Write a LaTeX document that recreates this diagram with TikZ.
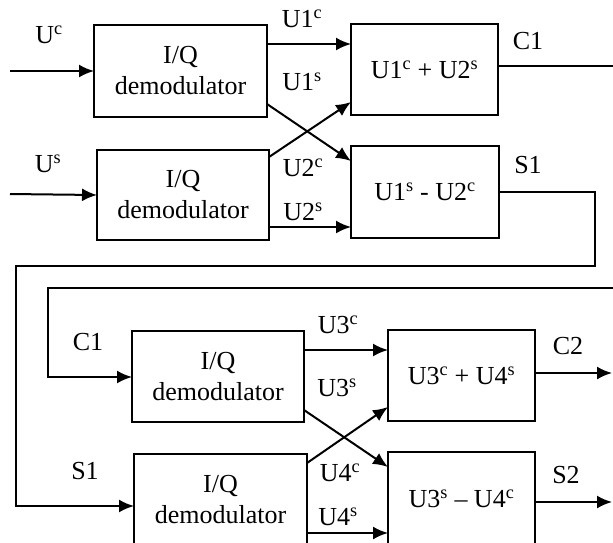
\documentclass[tikz,border=0pt]{standalone}
\usepackage{fontspec}
\setmainfont{Liberation Serif}
\usetikzlibrary{arrows.meta}
\begin{document}
\begin{tikzpicture}[x=1pt,y=-1pt,
  every node/.style={font=\fontsize{26}{31}\selectfont},
  blk/.style={draw,line width=2pt,inner sep=0pt,outer sep=0pt,align=center},
  lbl/.style={inner sep=0pt},
  wire/.style={line width=2pt},
  arr/.style={line width=2pt,-{Latex[length=15pt,width=13pt]}}]
\useasboundingbox (0,0) rectangle (613,542);
\clip (0,0) rectangle (613,542);
% boxes
\node[blk,minimum width=173pt,minimum height=92pt] (A) at (180.5,71) {I/Q\\demodulator};
\node[blk,minimum width=172pt,minimum height=90pt] (B) at (183,195) {I/Q\\demodulator};
\node[blk,minimum width=147pt,minimum height=91pt] (C) at (424.5,69.5) {U1\textsuperscript{c} + U2\textsuperscript{s}};
\node[blk,minimum width=148pt,minimum height=92pt] (D) at (425,192) {U1\textsuperscript{s} - U2\textsuperscript{c}};
\node[blk,minimum width=172pt,minimum height=91pt] (E) at (218,376.5) {I/Q\\demodulator};
\node[blk,minimum width=173pt,minimum height=91pt] (F) at (220.5,499.5) {I/Q\\demodulator};
\node[blk,minimum width=147pt,minimum height=91pt] (G) at (461.5,375.5) {U3\textsuperscript{c} + U4\textsuperscript{s}};
\node[blk,minimum width=147pt,minimum height=93pt] (H) at (461.5,498.5) {U3\textsuperscript{s} -- U4\textsuperscript{c}};
% fragment at top
\node[lbl,anchor=base west] (Qf) at (207,-6) {Q};
% free ends
\coordinate (inC) at (10,71);
\coordinate (inS) at (10,194);
\coordinate (outC1) at (620,66);
\coordinate (s1a) at (595,192);
\coordinate (s1b) at (595,266);
\coordinate (s1c) at (16,266);
\coordinate (s1d) at (16,506);
\coordinate (c1a) at (620,288);
\coordinate (c1b) at (48,288);
\coordinate (c1c) at (48,377);
\coordinate (outC2) at (612,373);
\coordinate (outS2) at (612,502);
% labels
\node[lbl] (lUc) at (49,35) {U\textsuperscript{c}};
\node[lbl] (lUs) at (48,164) {U\textsuperscript{s}};
\node[lbl] (l1c) at (302,19) {U1\textsuperscript{c}};
\node[lbl] (l1s) at (302,82) {U1\textsuperscript{s}};
\node[lbl] (l2c) at (303,168) {U2\textsuperscript{c}};
\node[lbl] (l2s) at (303,212) {U2\textsuperscript{s}};
\node[lbl] (lC1) at (528,41) {C1};
\node[lbl] (lS1) at (528,165) {S1};
\node[lbl] (lC1b) at (88,342) {C1};
\node[lbl] (lS1b) at (85,471) {S1};
\node[lbl] (l3c) at (338,325) {U3\textsuperscript{c}};
\node[lbl] (l3s) at (337,388) {U3\textsuperscript{s}};
\node[lbl] (l4c) at (340,473) {U4\textsuperscript{c}};
\node[lbl] (l4s) at (338,517) {U4\textsuperscript{s}};
\node[lbl] (lC2) at (568,346) {C2};
\node[lbl] (lS2) at (566,475) {S2};
% connectors top
\draw[arr] (inC) -- (A.west);
\draw[arr] (inS) -- (B.west);
\draw[arr] (A.east |- 0,44) -- (C.west |- 0,44);
\draw[arr] (A.east |- 0,104) -- (D.west |- 0,161);
\draw[arr] (B.east |- 0,157) -- (C.west |- 0,102);
\draw[arr] (B.east |- 0,227) -- (D.west |- 0,227);
\draw[wire] (C.east |- 0,66) -- (outC1);
\draw[arr] (D.east |- 0,192) -- (s1a) -- (s1b) -- (s1c) -- (s1d) -- (F.west |- 0,506);
\draw[arr] (c1a) -- (c1b) -- (c1c) -- (E.west |- 0,377);
% connectors bottom
\draw[arr] (E.east |- 0,350) -- (G.west |- 0,350);
\draw[arr] (E.east |- 0,410) -- (H.west |- 0,467);
\draw[arr] (F.east |- 0,463) -- (G.west |- 0,407);
\draw[arr] (F.east |- 0,533) -- (H.west |- 0,533);
\draw[arr] (G.east |- 0,373) -- (outC2);
\draw[arr] (H.east |- 0,502) -- (outS2);
\end{tikzpicture}
\end{document}
